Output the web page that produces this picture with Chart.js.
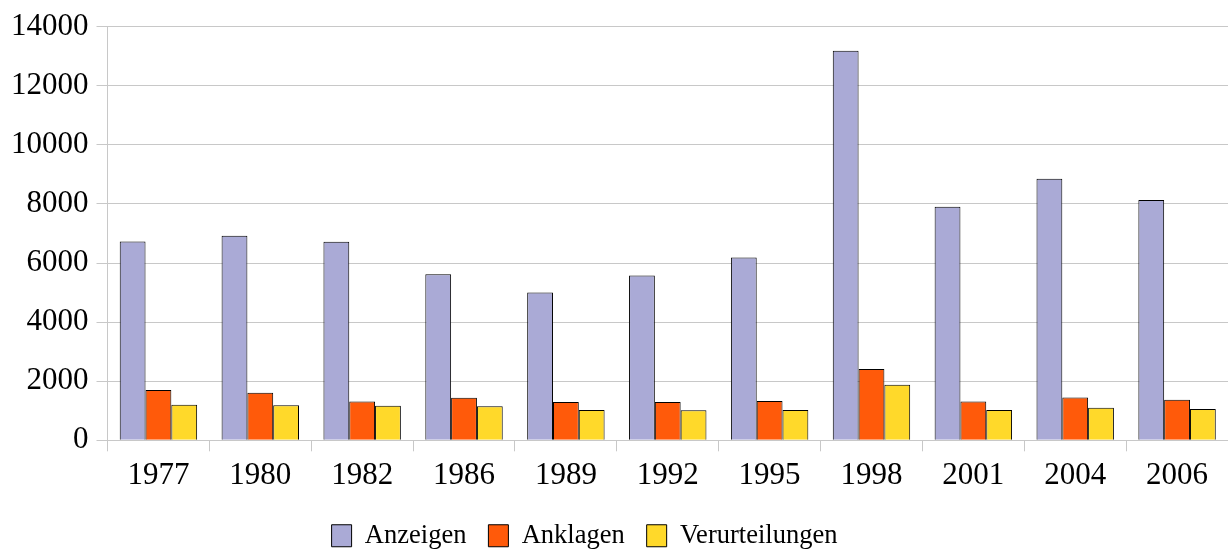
<!DOCTYPE html>
<html>
<head>
<meta charset="utf-8">
<script src="https://cdn.jsdelivr.net/npm/chart.js@4.4.1/dist/chart.umd.min.js"></script>
<style>
  html, body { margin: 0; padding: 0; background: #fff; }
  #wrap { width: 1228px; height: 551px; }
</style>
</head>
<body>
<div id="wrap"><canvas id="myChart"></canvas></div>
<script>
var years = ['1977', '1980', '1982', '1986', '1989', '1992', '1995', '1998', '2001', '2004', '2006'];
var anzeigen = [6730, 6920, 6720, 5620, 5000, 5580, 6190, 13180, 7900, 8850, 8130];
var anklagen = [1700, 1610, 1310, 1440, 1300, 1300, 1330, 2410, 1310, 1450, 1370];
var verurteilungen = [1200, 1190, 1170, 1150, 1025, 1015, 1025, 1880, 1025, 1100, 1060];

var serif = "'Liberation Serif', 'Times New Roman', serif";

var chartdata = {
  labels: years,
  datasets: [
    { label: 'Anzeigen', data: anzeigen, backgroundColor: '#aaaad6', borderColor: '#000', borderWidth: 1 },
    { label: 'Anklagen', data: anklagen, backgroundColor: '#ff5a0a', borderColor: '#000', borderWidth: 1 },
    { label: 'Verurteilungen', data: verurteilungen, backgroundColor: '#ffd92a', borderColor: '#000', borderWidth: 1 }
  ]
};

// legend in the original sits a bit left of centre
var legendShift = {
  id: 'legendShift',
  afterLayout: function(chart) {
    chart.legend.right -= 62;
  }
};

var options = {
  responsive: true,
  maintainAspectRatio: false,
  animation: false,
  layout: { padding: { left: 3, right: 0, top: 8, bottom: -8 } },
  datasets: {
    bar: { categoryPercentage: 0.76, barPercentage: 1.0 }
  },
  plugins: {
    legend: {
      position: 'bottom',
      labels: {
        font: { family: serif, size: 26.5 },
        color: '#000',
        boxWidth: 20,
        boxHeight: 22,
        padding: 22
      }
    },
    tooltip: { enabled: false }
  },
  scales: {
    x: {
      grid: { drawOnChartArea: false, drawTicks: true, tickLength: 11, color: '#c8c8c8' },
      border: { color: '#c8c8c8' },
      ticks: { font: { family: serif, size: 31 }, color: '#000', padding: 6 }
    },
    y: {
      min: 0,
      max: 14000,
      grid: { color: '#c8c8c8', tickLength: 11 },
      border: { color: '#c8c8c8' },
      ticks: {
        stepSize: 2000,
        font: { family: serif, size: 31 },
        color: '#000',
        padding: 8,
        callback: function(v) { return String(v); }
      }
    }
  }
};

new Chart(document.getElementById('myChart'), { type: 'bar', data: chartdata, options: options, plugins: [legendShift] });
</script>
</body>
</html>
